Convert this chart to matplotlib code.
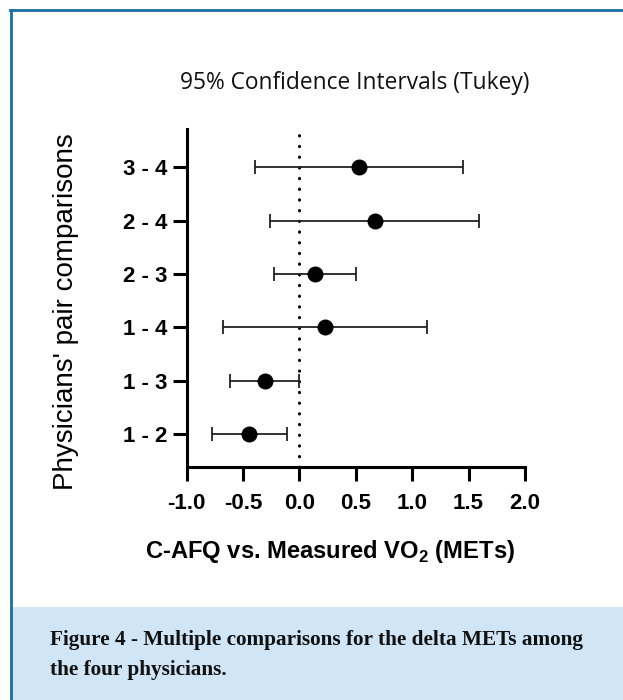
import matplotlib
matplotlib.use("Agg")
import matplotlib.pyplot as plt
from matplotlib.patches import Rectangle
from matplotlib.lines import Line2D

# comparison labels (bottom to top) and Tukey 95% CI values
pairs = ["1 - 2", "1 - 3", "1 - 4", "2 - 3", "2 - 4", "3 - 4"]
mean_diff = [-0.45, -0.31, 0.23, 0.14, 0.67, 0.53]
ci_low = [-0.78, -0.62, -0.68, -0.23, -0.26, -0.39]
ci_high = [-0.11, 0.00, 1.13, 0.50, 1.59, 1.45]
xticks = [-1.0, -0.5, 0.0, 0.5, 1.0, 1.5, 2.0]

title = "95% Confidence Intervals (Tukey)"
xlabel = r"C-AFQ vs. Measured VO$_{\mathbf{2}}$ (METs)"
ylabel = "Physicians' pair comparisons"
caption_lines = ["Figure 4 - Multiple comparisons for the delta METs among",
                 "the four physicians."]

plt.rcParams['font.family'] = ['Liberation Sans', 'DejaVu Sans']
plt.rcParams['mathtext.fontset'] = 'custom'
plt.rcParams['mathtext.bf'] = 'Liberation Sans:bold'
plt.rcParams['mathtext.rm'] = 'Liberation Sans'

W, H = 623, 700
fig = plt.figure(figsize=(W / 100, H / 100), dpi=100)
fig.patch.set_facecolor('white')

# caption box and frame lines (pixel coords -> figure fraction)
fig.add_artist(Rectangle((12 / W, 0), 1 - 12 / W, (H - 607) / H,
                         transform=fig.transFigure, facecolor='#d0e6f6',
                         edgecolor='none', zorder=0))
fig.add_artist(Line2D([11 / W, 11 / W], [0, 1 - 10 / H], transform=fig.transFigure,
                      color='#1b6fa0', lw=2))
fig.add_artist(Line2D([10 / W, 1], [1 - 10 / H, 1 - 10 / H], transform=fig.transFigure,
                      color='#1b6fa0', lw=2))

for i, line in enumerate(caption_lines):
    fig.text(50 / W, 1 - (640 + 30 * i) / H, line, fontfamily='Liberation Serif',
             fontweight='bold', fontsize=15.3, color='#111111', va='center', ha='left')

fig.text(355 / W, 1 - 83 / H, title, fontfamily='Open Sans', fontsize=16.4,
         ha='center', va='center', color='#111111')

ax = fig.add_axes([186.7 / W, 1 - 467 / H, (525 - 186.7) / W, (467 - 129) / H])
ypos = list(range(1, len(pairs) + 1))

ax.axvline(0, color='black', lw=2.2, linestyle=(0, (0.1, 3.4)),
           dash_capstyle='round', zorder=1)

xerr = [[m - lo for m, lo in zip(mean_diff, ci_low)],
        [hi - m for m, hi in zip(mean_diff, ci_high)]]
ax.errorbar(mean_diff, ypos, xerr=xerr, fmt='o', color='black', ecolor='#222222',
            elinewidth=1.3, capsize=4.7, capthick=1.3, markersize=10.5, zorder=3)

ax.set_xlim(-1.0, 2.0)
ax.set_ylim(0.38, 6.72)
ax.set_xticks(xticks)
ax.set_xticklabels([f"{t:.1f}" for t in xticks], fontweight='bold', fontsize=16)
ax.set_yticks(ypos)
ax.set_yticklabels(pairs, fontweight='bold', fontsize=16)

for side in ['top', 'right']:
    ax.spines[side].set_visible(False)
for side in ['left', 'bottom']:
    ax.spines[side].set_linewidth(2.2)
ax.tick_params(axis='both', length=10, width=2.2, color='black')
ax.tick_params(axis='x', pad=9)
ax.tick_params(axis='y', pad=3.6)

ax.set_xlabel(xlabel, fontweight='bold', fontsize=17.1)
ax.xaxis.set_label_coords(0.424, -0.251)
ax.xaxis.label.set_va('center')
ax.set_ylabel(ylabel, fontsize=20)
ax.yaxis.set_label_coords(-0.357, 0.461)
ax.yaxis.label.set_va('center')

fig.savefig("out.png", dpi=100)
